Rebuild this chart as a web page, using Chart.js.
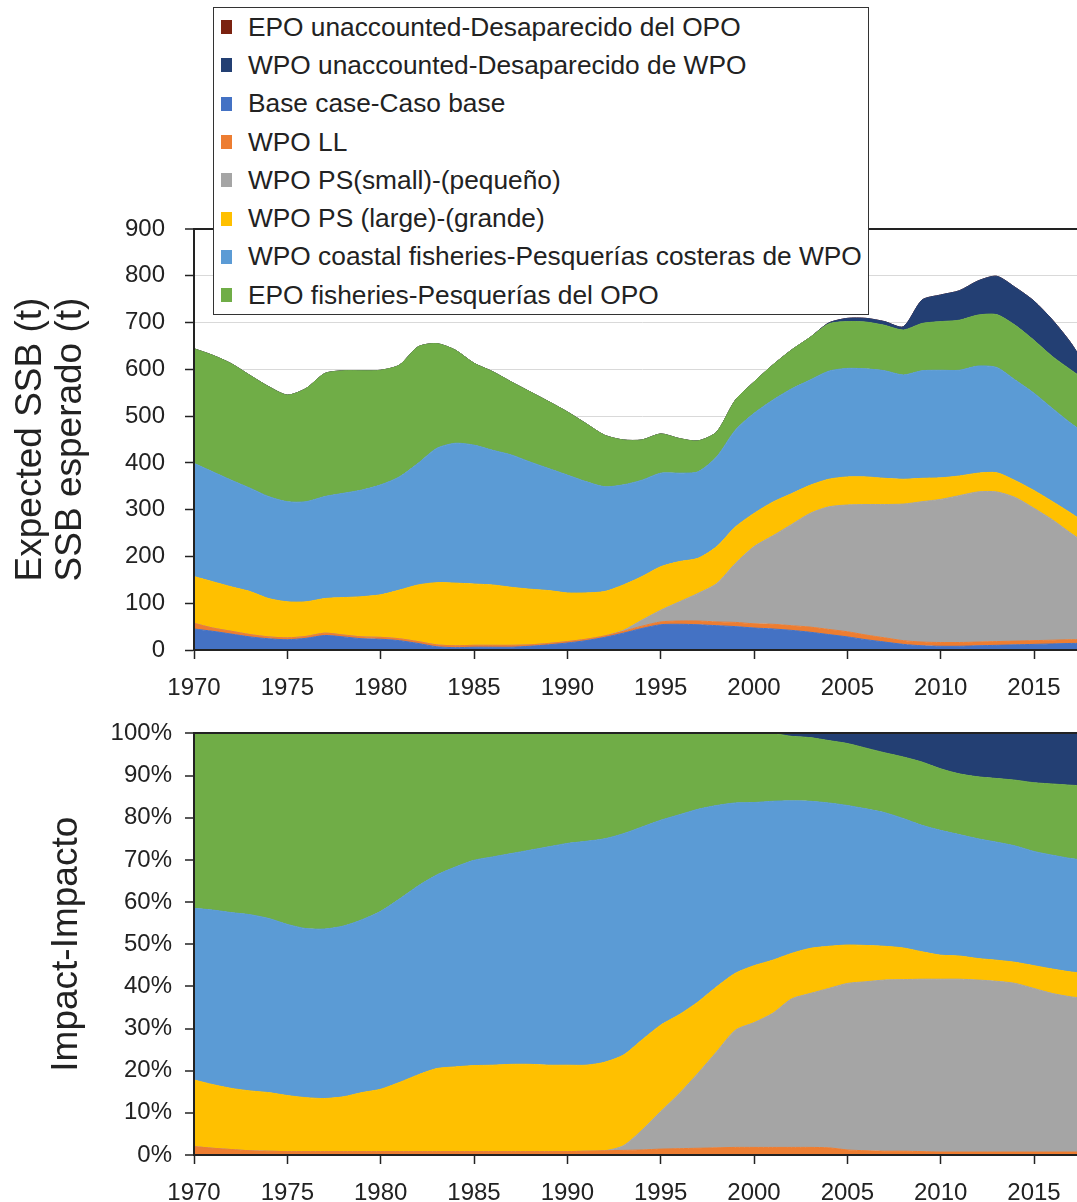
<!DOCTYPE html>
<html>
<head>
<meta charset="utf-8">
<title>Expected SSB and impact by fishery</title>
<script src="https://cdn.jsdelivr.net/npm/chart.js@4.4.1/dist/chart.umd.min.js"></script>
<style>
    html, body { margin: 0; padding: 0; background: #fff; overflow: hidden; }
    #page { position: relative; width: 1077px; height: 1202px; overflow: hidden; }
    #ssbChart { position: absolute; left: 0; top: 0; }
    #impactChart { position: absolute; left: 0; top: 706px; }
    #legend {
        position: absolute; left: 213px; top: 7px; width: 654px;
        border: 1.5px solid #333; background: #fff; color: #222;
        font-family: 'Liberation Sans', Arial, sans-serif; font-size: 26.3px;
    }
    .legend-row { height: 38.3px; display: flex; align-items: center; white-space: nowrap; }
    .legend-box { width: 11px; height: 14px; margin-left: 7px; margin-right: 16px; flex: none; }
</style>
</head>
<body>
<div id="page">
    <canvas id="ssbChart" width="1100" height="706"></canvas>
    <canvas id="impactChart" width="1100" height="496"></canvas>
    <div id="legend"></div>
</div>
<script>
// Years (x categories)
var years = [1970, 1971, 1972, 1973, 1974, 1975, 1976, 1977, 1978, 1979,
             1980, 1981, 1982, 1983, 1984, 1985, 1986, 1987, 1988, 1989,
             1990, 1991, 1992, 1993, 1994, 1995, 1996, 1997, 1998, 1999,
             2000, 2001, 2002, 2003, 2004, 2005, 2006, 2007, 2008, 2009,
             2010, 2011, 2012, 2013, 2014, 2015, 2016, 2017, 2018];

// Tick labels
var xTickYears = [1970, 1975, 1980, 1985, 1990, 1995, 2000, 2005, 2010, 2015];
var ssbTicks = [0, 100, 200, 300, 400, 500, 600, 700, 800, 900];
var impactTicks = [0, 10, 20, 30, 40, 50, 60, 70, 80, 90, 100];

// Series names
var nameEpoUnacc = 'EPO unaccounted-Desaparecido del OPO';
var nameWpoUnacc = 'WPO unaccounted-Desaparecido de WPO';
var nameBase = 'Base case-Caso base';
var nameWpoLL = 'WPO LL';
var namePsSmall = 'WPO PS(small)-(pequeño)';
var namePsLarge = 'WPO PS (large)-(grande)';
var nameCoastal = 'WPO coastal fisheries-Pesquerías costeras de WPO';
var nameEpo = 'EPO fisheries-Pesquerías del OPO';

// Top panel: expected SSB (t), thickness of each stacked layer
var ssbBase = [45, 40, 34, 28, 24, 22, 25, 31, 28, 24,
               23, 20, 14, 7, 5, 6, 6, 6, 8, 11,
               15, 20, 27, 36, 46, 54, 55, 54, 52, 50,
               47, 45, 42, 38, 33, 28, 22, 17, 12, 9,
               8, 8, 9, 10, 11, 12, 13, 14, 14];
var ssbWpoLL = [12, 7, 6, 5, 4, 4, 4, 5, 4, 4,
                4, 4, 4, 4, 4, 4, 4, 4, 3, 3,
                3, 3, 3, 4, 5, 6, 7, 8, 8, 9,
                9, 10, 10, 11, 11, 11, 10, 9, 8, 8,
                8, 8, 8, 8, 8, 8, 8, 8, 8];
var ssbPsSmall = [0, 0, 0, 0, 0, 0, 0, 0, 0, 0,
                  0, 0, 0, 0, 0, 0, 0, 0, 0, 0,
                  0, 0, 0, 2, 13, 25, 41, 59, 82, 126,
                  165, 189, 216, 243, 262, 271, 279, 285, 292, 300,
                  306, 314, 321, 320, 307, 283, 257, 227, 200];
var ssbPsLarge = [100, 99, 95, 92, 82, 77, 74, 74, 80, 86,
                  91, 104, 121, 133, 134, 131, 129, 124, 119, 113,
                  104, 99, 95, 97, 93, 93, 86, 75, 79, 78,
                  71, 72, 66, 60, 59, 60, 59, 56, 53, 50,
                  46, 42, 40, 41, 36, 38, 39, 43, 43];
var ssbCoastal = [242, 235, 228, 221, 218, 214, 214, 218, 223, 228,
                  235, 242, 260, 287, 299, 297, 288, 283, 272, 261,
                  252, 238, 224, 214, 206, 200, 189, 185, 192, 207,
                  214, 218, 224, 225, 231, 232, 231, 230, 223, 230,
                  230, 226, 229, 225, 215, 208, 199, 192, 190];
var ssbEpo = [245, 249, 249, 241, 235, 228, 242, 263, 262, 255,
              245, 239, 249, 224, 199, 175, 168, 156, 150, 143,
              135, 124, 110, 96, 86, 84, 74, 66, 53, 64,
              67, 75, 83, 91, 101, 100, 100, 97, 96, 101,
              104, 107, 109, 113, 117, 113, 111, 114, 115];
var ssbWpoUnacc = [0, 0, 0, 0, 0, 0, 0, 0, 0, 0,
                   0, 0, 0, 0, 0, 0, 0, 0, 0, 0,
                   0, 0, 0, 0, 0, 0, 0, 0, 0, 0,
                   0, 0, 0, 0, 2, 7, 8, 8, 7, 50,
                   57, 63, 73, 82, 81, 84, 78, 57, 20];
var ssbEpoUnacc = [0, 0, 0, 0, 0, 0, 0, 0, 0, 0,
                   0, 0, 0, 0, 0, 0, 0, 0, 0, 0,
                   0, 0, 0, 0, 0, 0, 0, 0, 0, 0,
                   0, 0, 0, 0, 0, 0, 0, 0, 0, 0,
                   0, 0, 0, 0, 0, 0, 0, 0, 0];

// Bottom panel: share of total impact (%)
var pctWpoLL = [2.0, 1.6, 1.3, 1.0, 0.9, 0.8, 0.8, 0.8, 0.8, 0.8,
                0.8, 0.8, 0.8, 0.8, 0.8, 0.8, 0.8, 0.8, 0.8, 0.8,
                0.8, 0.9, 1.0, 1.1, 1.2, 1.4, 1.5, 1.6, 1.7, 1.8,
                1.8, 1.8, 1.8, 1.8, 1.7, 1.2, 1.0, 0.9, 0.9, 0.8,
                0.7, 0.7, 0.7, 0.7, 0.7, 0.7, 0.7, 0.7, 0.7];
var pctPsSmall = [0, 0, 0, 0, 0, 0, 0, 0, 0, 0,
                  0, 0, 0, 0, 0, 0, 0, 0, 0, 0,
                  0, 0, 0, 1.1, 4.7, 8.9, 13.1, 17.8, 22.8, 27.8,
                  29.6, 31.8, 35.2, 36.5, 37.8, 39.5, 40.1, 40.6, 40.7, 40.9,
                  41.0, 41.0, 40.8, 40.5, 40.0, 38.8, 37.6, 36.8, 36.3];
var pctPsLarge = [15.8, 15.1, 14.5, 14.2, 13.9, 13.3, 12.8, 12.6, 13.0, 14.0,
                  14.8, 16.4, 18.2, 19.7, 20.1, 20.4, 20.5, 20.7, 20.7, 20.5,
                  20.5, 20.4, 21.0, 21.5, 21.4, 20.5, 18.7, 16.9, 15.4, 13.5,
                  13.5, 12.6, 10.8, 10.7, 10.0, 9.1, 8.6, 8.0, 7.5, 6.5,
                  5.7, 5.5, 5.1, 5.0, 5.0, 5.4, 5.8, 5.9, 6.0];
var pctCoastal = [40.7, 41.4, 41.7, 41.8, 41.3, 40.6, 40.1, 40.2, 40.5, 41.0,
                  42.2, 43.5, 44.8, 45.9, 47.4, 48.7, 49.4, 50.0, 50.8, 51.8,
                  52.6, 53.1, 53.0, 52.5, 50.5, 48.6, 47.4, 45.7, 43.0, 40.4,
                  38.7, 37.7, 36.2, 34.9, 34.0, 33.1, 32.4, 31.7, 30.7, 30.0,
                  29.6, 28.8, 28.4, 28.0, 27.6, 27.1, 27.0, 26.9, 26.8];
var pctEpo = [41.5, 41.9, 42.5, 43.0, 43.9, 45.3, 46.3, 46.4, 45.7, 44.2,
              42.2, 39.3, 36.2, 33.6, 31.7, 30.1, 29.3, 28.5, 27.7, 26.9,
              26.1, 25.6, 25.0, 23.8, 22.2, 20.6, 19.3, 18.0, 17.1, 16.5,
              16.4, 16.1, 15.3, 15.1, 14.8, 14.7, 14.4, 14.2, 14.6, 15.0,
              14.6, 14.4, 14.7, 15.1, 15.6, 16.3, 16.9, 17.4, 17.7];
var pctWpoUnacc = [0, 0, 0, 0, 0, 0, 0, 0, 0, 0,
                   0, 0, 0, 0, 0, 0, 0, 0, 0, 0,
                   0, 0, 0, 0, 0, 0, 0, 0, 0, 0,
                   0, 0, 0.7, 1.0, 1.7, 2.4, 3.5, 4.6, 5.6, 6.8,
                   8.4, 9.6, 10.3, 10.7, 11.1, 11.7, 12.0, 12.3, 12.5];
var pctEpoUnacc = [0, 0, 0, 0, 0, 0, 0, 0, 0, 0,
                   0, 0, 0, 0, 0, 0, 0, 0, 0, 0,
                   0, 0, 0, 0, 0, 0, 0, 0, 0, 0,
                   0, 0, 0, 0, 0, 0, 0, 0, 0, 0,
                   0, 0, 0, 0, 0, 0, 0, 0, 0];

// Colours per series
var colors = {};
colors[nameEpoUnacc] = '#7b2210';
colors[nameWpoUnacc] = '#233f73';
colors[nameBase] = '#4472c4';
colors[nameWpoLL] = '#ed7d31';
colors[namePsSmall] = '#a5a5a5';
colors[namePsLarge] = '#ffc000';
colors[nameCoastal] = '#5b9bd5';
colors[nameEpo] = '#70ad47';

// Legend order as in the figure
var legendOrder = [nameEpoUnacc, nameWpoUnacc, nameBase, nameWpoLL, namePsSmall, namePsLarge, nameCoastal, nameEpo];

var textColor = '#222';
Chart.defaults.font.family = "'Liberation Sans', Arial, sans-serif";
Chart.defaults.color = textColor;

// Makes one stacked area layer
function makeLayer(name, values, first) {
    return {
        label: name,
        data: values.map(function (v, i) { return { x: years[i], y: v }; }),
        backgroundColor: colors[name],
        borderColor: colors[name],
        borderWidth: 1,
        pointRadius: 0,
        tension: 0.25,
        fill: first ? 'origin' : '-1'
    };
}

function fixTicks(list) {
    return function (scale) {
        scale.ticks = list.map(function (v) { return { value: v }; });
    };
}

// Shared x axis
function xAxis(height) {
    return {
        type: 'linear',
        min: 1970,
        max: 2018,
        afterBuildTicks: fixTicks(xTickYears),
        afterFit: function (scale) { scale.height = height; },
        grid: { drawOnChartArea: false, drawTicks: true, tickLength: 9, tickColor: textColor, tickWidth: 1.5 },
        border: { color: textColor, width: 2, z: 1 },
        ticks: {
            font: { size: 24 },
            padding: 15,
            maxRotation: 0,
            callback: function (v) { return String(v); }
        }
    };
}

// Top chart: expected SSB
var ssbCtx = document.getElementById('ssbChart').getContext('2d');
var ssbChart = new Chart(ssbCtx, {
    type: 'line',
    data: {
        datasets: [
            makeLayer(nameBase, ssbBase, true),
            makeLayer(nameWpoLL, ssbWpoLL),
            makeLayer(namePsSmall, ssbPsSmall),
            makeLayer(namePsLarge, ssbPsLarge),
            makeLayer(nameCoastal, ssbCoastal),
            makeLayer(nameEpo, ssbEpo),
            makeLayer(nameWpoUnacc, ssbWpoUnacc),
            makeLayer(nameEpoUnacc, ssbEpoUnacc)
        ]
    },
    options: {
        responsive: false,
        maintainAspectRatio: false,
        animation: false,
        layout: { padding: { top: 229, right: 10, bottom: 0, left: 0 } },
        plugins: { legend: { display: false }, tooltip: { enabled: false } },
        scales: {
            x: xAxis(56),
            y: {
                stacked: true,
                min: 0,
                max: 900,
                afterBuildTicks: fixTicks(ssbTicks),
                afterFit: function (scale) { scale.width = 194; },
                grid: {
                    color: function (c) { return c.tick && c.tick.value === 900 ? textColor : '#d9d9d9'; },
                    lineWidth: function (c) { return c.tick && c.tick.value === 900 ? 2 : 1; },
                    tickLength: 9,
                    tickColor: textColor,
                    tickWidth: 1.5
                },
                border: { color: textColor, width: 2, z: 1 },
                ticks: { font: { size: 24 }, padding: 20 },
                title: {
                    display: true,
                    text: ['Expected SSB (t)', 'SSB esperado (t)'],
                    font: { size: 37, lineHeight: 1.07 },
                    padding: { top: 11, bottom: 0 }
                }
            }
        }
    }
});

// Bottom chart: share of impact
var impactCtx = document.getElementById('impactChart').getContext('2d');
var impactChart = new Chart(impactCtx, {
    type: 'line',
    data: {
        datasets: [
            makeLayer(nameWpoLL, pctWpoLL, true),
            makeLayer(namePsSmall, pctPsSmall),
            makeLayer(namePsLarge, pctPsLarge),
            makeLayer(nameCoastal, pctCoastal),
            makeLayer(nameEpo, pctEpo),
            makeLayer(nameWpoUnacc, pctWpoUnacc),
            makeLayer(nameEpoUnacc, pctEpoUnacc)
        ]
    },
    options: {
        responsive: false,
        maintainAspectRatio: false,
        animation: false,
        layout: { padding: { top: 27, right: 10, bottom: 0, left: 0 } },
        plugins: { legend: { display: false }, tooltip: { enabled: false } },
        scales: {
            x: xAxis(47),
            y: {
                stacked: true,
                min: 0,
                max: 100,
                afterBuildTicks: fixTicks(impactTicks),
                afterFit: function (scale) { scale.width = 194; },
                grid: {
                    z: 1,
                    color: function (c) { return c.tick && c.tick.value === 100 ? textColor : 'rgba(0,0,0,0)'; },
                    lineWidth: 2,
                    tickLength: 9,
                    tickColor: textColor,
                    tickWidth: 1.5
                },
                border: { color: textColor, width: 2, z: 1 },
                ticks: {
                    font: { size: 24 },
                    padding: 13,
                    callback: function (v) { return v + '%'; }
                },
                title: {
                    display: true,
                    text: 'Impact-Impacto',
                    font: { size: 37, lineHeight: 1.07 },
                    padding: { top: 47, bottom: 0 }
                }
            }
        }
    }
});

// HTML legend on top of the upper chart
function buildLegend(chart) {
    var box = document.getElementById('legend');
    box.innerHTML = '';
    legendOrder.forEach(function (name) {
        var ds = chart.data.datasets.filter(function (d) { return d.label === name; })[0];
        var row = document.createElement('div');
        row.className = 'legend-row';
        var swatch = document.createElement('span');
        swatch.className = 'legend-box';
        swatch.style.background = ds.backgroundColor;
        var text = document.createElement('span');
        text.textContent = ds.label;
        row.appendChild(swatch);
        row.appendChild(text);
        box.appendChild(row);
    });
}

buildLegend(ssbChart);
</script>
</body>
</html>
